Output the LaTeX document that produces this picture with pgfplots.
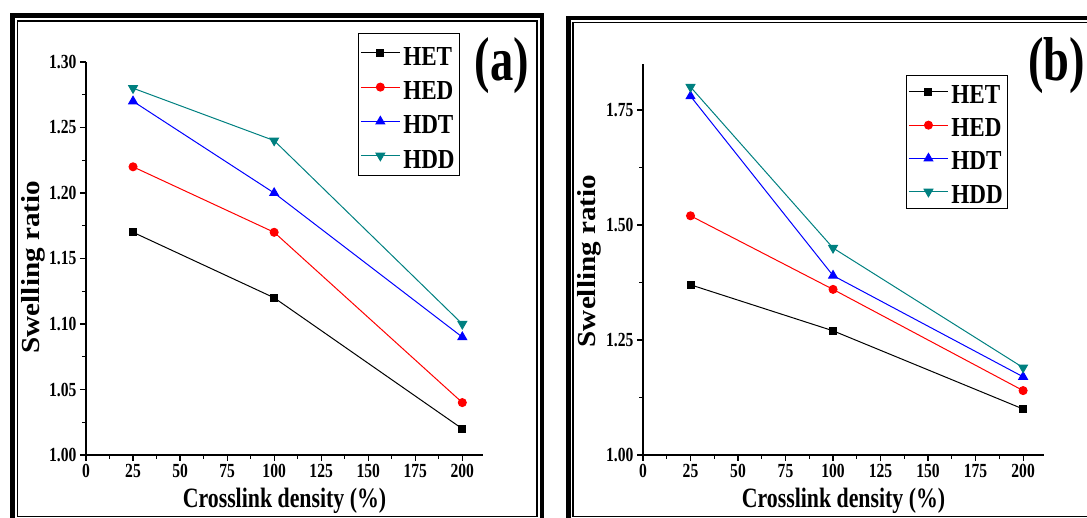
\documentclass[border=0pt]{standalone}
\usepackage{pgfplots}
\pgfplotsset{compat=1.18}
\usepackage{fontspec}
\setmainfont{Liberation Serif}
\newfontfamily\tickf[FakeStretch=0.78]{Liberation Serif}
\newfontfamily\xlabf[FakeStretch=0.78]{Liberation Serif}
\newfontfamily\ylabf[FakeStretch=1.12]{Liberation Serif}
\newfontfamily\legf[FakeStretch=0.84]{Liberation Serif}
\newfontfamily\panf[FakeStretch=0.75]{Liberation Serif}
\definecolor{tealc}{RGB}{0,128,128}
\pgfplotsset{
  myax/.style={
    scale only axis, anchor=south west, clip=false,
    axis x line*=bottom, axis y line*=left,
    axis line style={line width=1.4pt,-},
    xmin=0, xmax=211, xtick={0,25,...,200}, minor x tick num=1,
    tick align=outside, major tick length=6pt, minor tick length=4pt,
    tick style={line width=1.2pt, black},
    ticklabel style={font=\fontsize{20}{20}\tickf\bfseries},
    /pgf/number format/assume math mode=true,
    yticklabel style={/pgf/number format/.cd, fixed, fixed zerofill, precision=2},
    xlabel={Crosslink density (\%)}, ylabel={Swelling ratio},
    xlabel style={font=\fontsize{28}{28}\xlabf\bfseries, yshift=-3pt},
    ylabel style={font=\fontsize{26}{26}\ylabf\bfseries, anchor=center},
    legend cell align=left,
    legend image code/.code={\draw[mark repeat=2, mark phase=2, #1] plot coordinates {(0pt,0pt)(19.5pt,0pt)(39pt,0pt)};},
  },
  p1/.style={black, line width=1pt, mark=square*, mark size=3.5pt},
  p2/.style={red, line width=1pt, mark=*, mark size=4pt},
  p3/.style={blue, line width=1pt, mark=triangle*, mark size=5pt},
  p4/.style={tealc, line width=1pt, mark=triangle*, mark size=5pt, mark options={rotate=180}},
}
\begin{document}
\begin{tikzpicture}
\begin{axis}[myax, at={(86pt,63pt)}, width=397pt, height=393pt,
  ymin=1.00, ymax=1.30, ytick={1.00,1.05,1.10,1.15,1.20,1.25,1.30}, minor y tick num=1,
  ylabel style={at={(axis description cs:-0.1335,0.478)}},
  legend style={at={(0.685,1.074)}, anchor=north west, draw=black, line width=0.8pt,
    inner xsep=2pt, inner ysep=7pt, row sep=9.3pt,
    nodes={inner ysep=0pt, inner xsep=3pt, text height=25pt, text depth=0pt, font=\fontsize{27.5}{27.5}\legf\bfseries}},
]
\addplot[p1] coordinates {(25,1.17)(100,1.12)(200,1.02)};
\addplot[p2] coordinates {(25,1.22)(100,1.17)(200,1.04)};
\addplot[p3] coordinates {(25,1.27)(100,1.20)(200,1.09)};
\addplot[p4] coordinates {(25,1.28)(100,1.24)(200,1.10)};
\legend{HET,HED,HDT,HDD}
\node at (rel axis cs:1.048,0.99) {\fontsize{62}{62}\panf\bfseries (a)};
\end{axis}
\begin{axis}[myax, at={(643pt,63pt)}, width=401pt, height=391pt,
  ymin=1.00, ymax=1.85, ytick={1.00,1.25,1.50,1.75}, minor y tick num=1,
  ylabel style={at={(axis description cs:-0.135,0.496)}},
  legend style={at={(0.656,0.972)}, anchor=north west, draw=black, line width=0.8pt,
    inner xsep=2pt, inner ysep=5pt, row sep=10.3pt,
    nodes={inner ysep=0pt, inner xsep=3pt, text height=23pt, text depth=0pt, font=\fontsize{27.5}{27.5}\legf\bfseries}},
]
\addplot[p1] coordinates {(25,1.37)(100,1.27)(200,1.10)};
\addplot[p2] coordinates {(25,1.52)(100,1.36)(200,1.14)};
\addplot[p3] coordinates {(25,1.78)(100,1.39)(200,1.17)};
\addplot[p4] coordinates {(25,1.80)(100,1.45)(200,1.19)};
\legend{HET,HED,HDT,HDD}
\node at (rel axis cs:1.032,0.997) {\fontsize{62}{62}\panf\bfseries (b)};
\end{axis}
\draw[line width=4.5pt] (12.5pt,502.5pt) rectangle (542pt,-4pt);
\draw[line width=1.8pt] (17.5pt,497pt) rectangle (537pt,1.5pt);
\draw[line width=4.5pt] (568.5pt,500pt) rectangle (1097pt,-4pt);
\draw[line width=1.8pt] (573pt,495.5pt) rectangle (1091pt,1.5pt);
\pgfresetboundingbox
\path[use as bounding box] (0pt,0pt) rectangle (1087pt,518pt);
\end{tikzpicture}
\end{document}
